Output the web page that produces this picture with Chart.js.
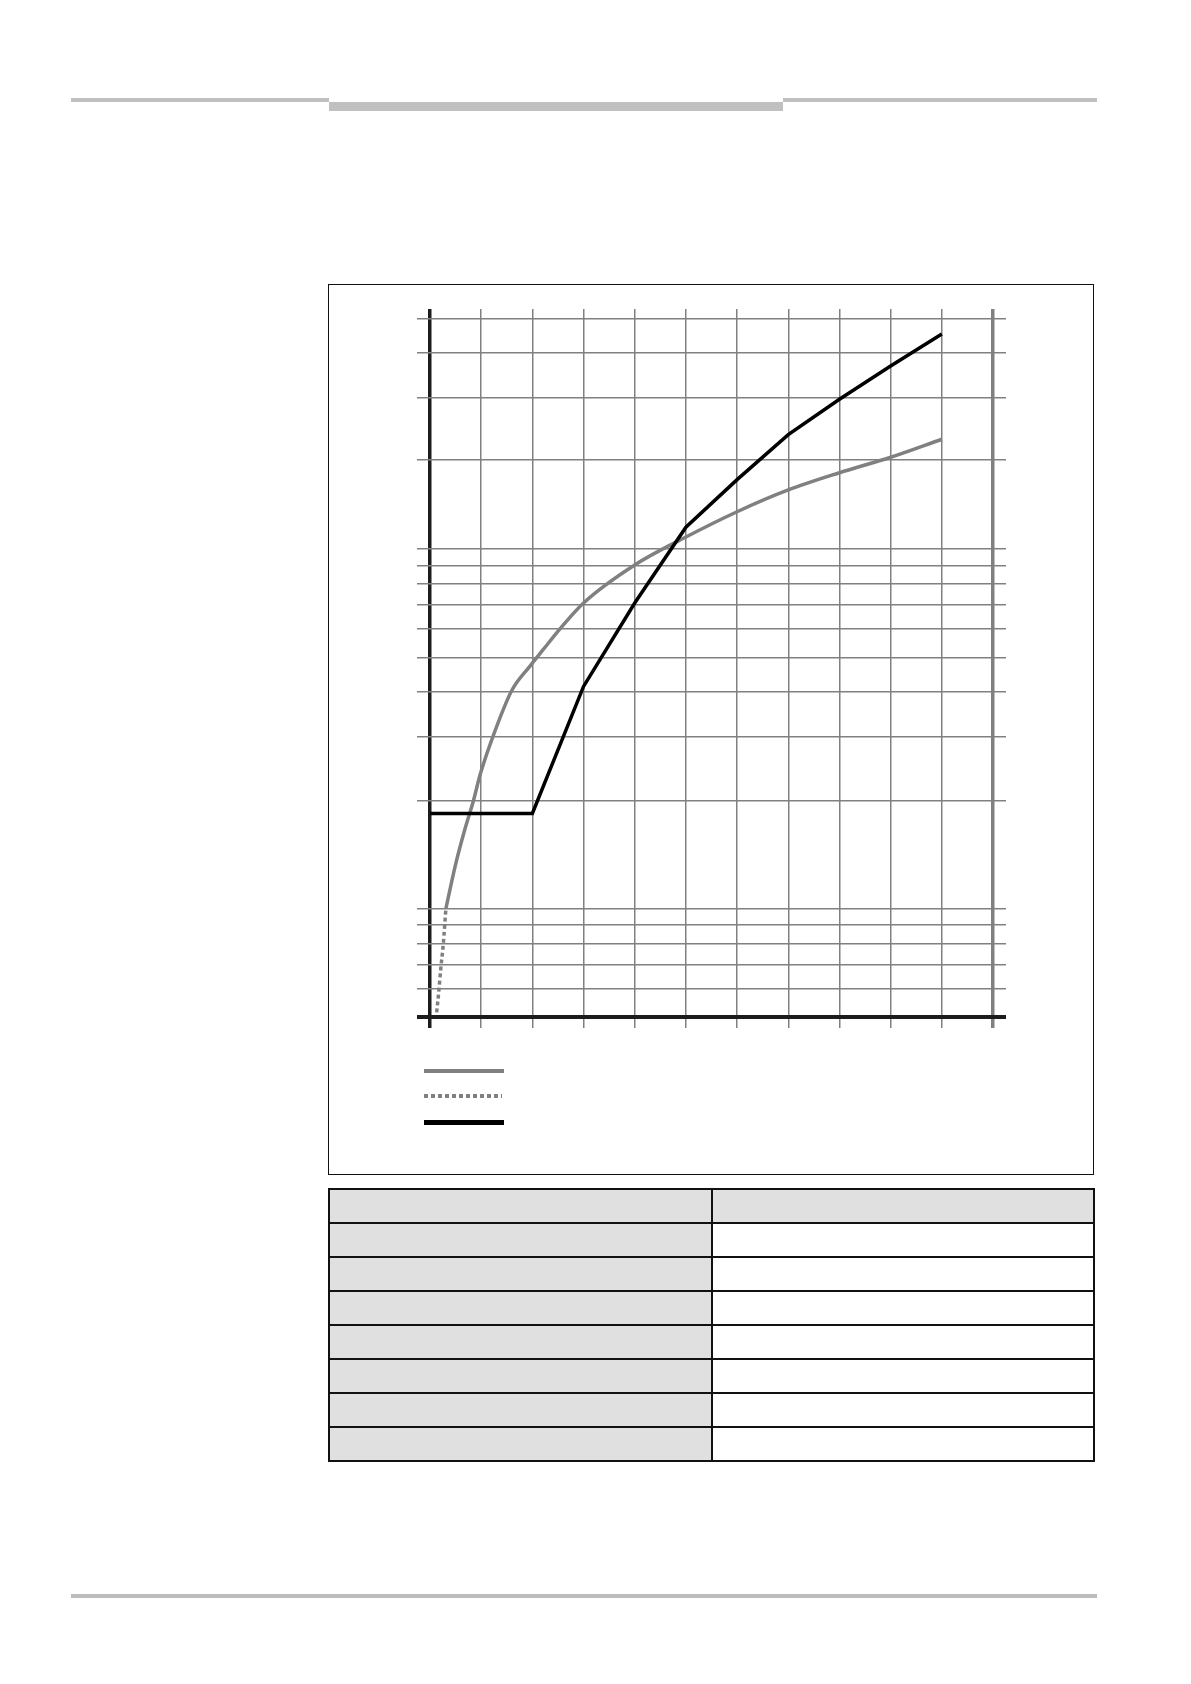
<!DOCTYPE html>
<html>
<head>
<meta charset="utf-8">
<script src="https://cdn.jsdelivr.net/npm/chart.js@4.4.1/dist/chart.umd.min.js"></script>
<style>
  body { margin: 0; background: #fff; font-family: "Liberation Sans", Arial, sans-serif; }
  .bar { position: absolute; background: #c0c0c0; }
  #box { position: absolute; left: 328px; top: 284px; width: 764px; height: 889px; border: 1.5px solid #111; }
  #wrap { position: absolute; left: 328px; top: 284px; width: 766px; height: 891px; }
  .leg { position: absolute; left: 424px; width: 80px; }
  table { position: absolute; left: 328px; top: 1188px; width: 767px; border-collapse: collapse; }
  td { border: 2px solid #111; height: 32px; padding: 0; width: 50%; }
  td.g { background: #e0e0e0; }
</style>
</head>
<body>
<div class="bar" style="left:71px;top:98px;width:258px;height:4px"></div>
<div class="bar" style="left:329px;top:102px;width:454px;height:9px"></div>
<div class="bar" style="left:783px;top:98px;width:314px;height:4px"></div>
<div class="bar" style="left:71px;top:1594px;width:1026px;height:4px;background:#bdbdbd"></div>

<div id="box"></div>
<div id="wrap"><canvas id="curveChart"></canvas></div>

<div class="leg" style="top:1069px;height:4px;background:#808080"></div>
<div class="leg" style="top:1094px;height:4px;width:78px;background:repeating-linear-gradient(90deg,#808080 0 4px,transparent 4px 7px)"></div>
<div class="leg" style="top:1120px;height:4.5px;background:#000"></div>

<table>
  <tr><td class="g"></td><td class="g"></td></tr>
  <tr><td class="g"></td><td></td></tr>
  <tr><td class="g"></td><td></td></tr>
  <tr><td class="g"></td><td></td></tr>
  <tr><td class="g"></td><td></td></tr>
  <tr><td class="g"></td><td></td></tr>
  <tr><td class="g"></td><td></td></tr>
  <tr><td class="g"></td><td></td></tr>
</table>

<script>
// black curve (piecewise linear)
const blackX = [0, 1, 2, 3, 4, 5, 6, 7, 8, 9, 10];
const blackY = [18.4, 18.4, 18.4, 41.5, 70.8, 115, 156, 208, 261, 323, 396];

// grey curve, solid part
const greyX = [0.31, 0.49, 0.68, 0.85, 0.98, 1.24, 1.6, 1.95, 2.21, 2.54, 3, 4, 5, 6, 7, 8, 9, 10];
const greyY = [10, 13.1, 16.6, 20, 23.6, 30.4, 40.5, 47.2, 52.5, 60, 70.8, 90.3, 108, 127, 146, 163, 180, 202];

// grey curve, dotted part near the origin
const dotX = [0.13, 0.17, 0.21, 0.26, 0.31];
const dotY = [5.15, 5.85, 6.8, 8.0, 10];

// grid positions
const xTicks = [0, 1, 2, 3, 4, 5, 6, 7, 8, 9, 10, 11];
const yTicks = [5, 6, 7, 8, 9, 10, 20, 30, 40, 50, 60, 70, 80, 90, 100, 177, 264, 352, 438];
const yMin = 5, yMax = 465;

function pts(xs, ys) {
  return xs.map((x, i) => ({ x: x, y: ys[i] }));
}

const gridGrey = "#808080";

function yAxis(pos) {
  return {
    type: "logarithmic",
    position: pos,
    min: yMin,
    max: yMax,
    bounds: "data",
    afterBuildTicks: s => { s.ticks = yTicks.map(v => ({ value: v })); },
    afterFit: s => { s.width = 14; },
    ticks: { display: false },
    border: { display: false },
    grid: {
      drawOnChartArea: pos === "left",
      drawTicks: true,
      tickLength: 13,
      color: c => c.tick && c.tick.value === yMin ? "#1c1c1c" : gridGrey,
      lineWidth: c => c.tick && c.tick.value === yMin ? 4 : 1.5
    }
  };
}

const ctx = document.getElementById("curveChart").getContext("2d");

new Chart(ctx, {
  type: "line",
  data: {
    datasets: [{
      data: pts(blackX, blackY),
      borderColor: "#000",
      borderWidth: 3.5,
      pointRadius: 0,
      tension: 0
    }, {
      data: pts(greyX, greyY),
      borderColor: "#808080",
      borderWidth: 3.5,
      pointRadius: 0,
      cubicInterpolationMode: "monotone"
    }, {
      data: pts(dotX, dotY),
      borderColor: "#808080",
      borderWidth: 3.5,
      borderDash: [4, 3],
      pointRadius: 0,
      cubicInterpolationMode: "monotone"
    }]
  },
  options: {
    responsive: true,
    maintainAspectRatio: false,
    animation: false,
    layout: { padding: { left: 88, right: 87, top: 25, bottom: 146 } },
    plugins: { legend: { display: false }, tooltip: { enabled: false } },
    scales: {
      x: {
        type: "linear",
        min: 0,
        max: 11,
        afterBuildTicks: s => { s.ticks = xTicks.map(v => ({ value: v })); },
        afterFit: s => { s.height = 12; },
        ticks: { display: false },
        border: { display: false },
        grid: {
          drawTicks: true,
          tickLength: 11,
          color: c => c.tick && c.tick.value === 0 ? "#1c1c1c" : gridGrey,
          lineWidth: c => c.tick && (c.tick.value === 0 || c.tick.value === 11) ? 3.5 : 1.5
        }
      },
      y: yAxis("left"),
      y2: yAxis("right")
    }
  }
});
</script>
</body>
</html>
